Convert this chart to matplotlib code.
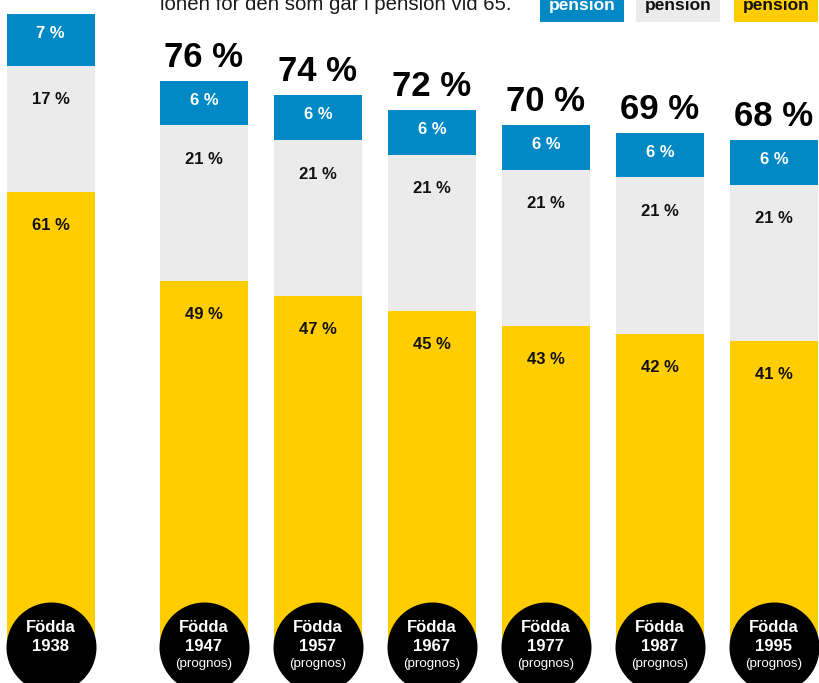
import matplotlib
matplotlib.use("Agg")
import matplotlib.pyplot as plt
from matplotlib.patches import Rectangle
import numpy as np

plt.rcParams['font.family'] = ['Liberation Sans', 'DejaVu Sans']

# ---- data ----
years = ["1938", "1947", "1957", "1967", "1977", "1987", "1995"]
prognos = [False, True, True, True, True, True, True]
yellow_vals = [61, 49, 47, 45, 43, 42, 41]
gray_vals = [17, 21, 21, 21, 21, 21, 21]
blue_vals = [7, 6, 6, 6, 6, 6, 6]
totals = [None, 76, 74, 72, 70, 69, 68]   # 1938 total lies outside the visible area
legend_labels = ["pension", "pension", "pension"]
intro_text = "lönen för den som går i pension vid 65."

BLUE = "#0089C4"
GRAY = "#EBEBEB"
YELLOW = "#FFCD00"
DARK = "#111111"

W, H = 820, 683
fig = plt.figure(figsize=(W / 100, H / 100), dpi=100)
ax = fig.add_axes([0, 0, 1, 1])

px_per_unit_y = 7.44
px_per_unit_x = 114.0
base_px = 646
ax.set_ylim(-(H - base_px) / px_per_unit_y, base_px / px_per_unit_y)
ax.set_xlim(0, W / px_per_unit_x)
ax.axis("off")

n = len(years)
idx = np.arange(n)
x = np.where(idx == 0, 0.443, 0.789 + idx)
bw = 88 / px_per_unit_x

yellow = np.array(yellow_vals, dtype=float)
gray = np.array(gray_vals, dtype=float)
blue = np.array(blue_vals, dtype=float)

ax.bar(x, yellow, width=bw, color=YELLOW, linewidth=0, zorder=1)
ax.bar(x, gray, width=bw, bottom=yellow, color=GRAY, linewidth=0, zorder=1)
ax.bar(x, blue, width=bw, bottom=yellow + gray, color=BLUE, linewidth=0, zorder=1)

def du(px):
    return px / px_per_unit_y

for i in range(n):
    top_y = yellow[i]
    top_g = yellow[i] + gray[i]
    top_b = top_g + blue[i]
    ax.text(x[i], top_y - du(33.5), f"{yellow_vals[i]} %", ha="center", va="center",
            fontsize=12, fontweight="bold", color=DARK, zorder=3)
    ax.text(x[i], top_g - du(34), f"{gray_vals[i]} %", ha="center", va="center",
            fontsize=12, fontweight="bold", color=DARK, zorder=3)
    ax.text(x[i], top_b - du(19.5), f"{blue_vals[i]} %", ha="center", va="center",
            fontsize=12, fontweight="bold", color="white", zorder=3)
    if totals[i] is not None:
        ax.text(x[i], top_b + du(14), f"{totals[i]} %", ha="center", va="baseline",
                fontsize=25, fontweight="bold", color="black", zorder=3)

# circles with labels
ax.scatter(x, np.zeros(n) - du(1), s=(90 * 0.72) ** 2, color="black", linewidths=0, zorder=4)
for i in range(n):
    ax.text(x[i], du(19), "Födda", ha="center", va="center", fontsize=12,
            fontweight="bold", color="white", zorder=5)
    ax.text(x[i], du(-0.5), years[i], ha="center", va="center", fontsize=12,
            fontweight="bold", color="white", zorder=5)
    if prognos[i]:
        ax.text(x[i], du(-18), "(prognos)", ha="center", va="center", fontsize=9.6,
                color="white", zorder=5)

# partially visible intro text
fig.text(160 / W, (H - 10) / H, intro_text, ha="left", va="baseline",
         fontsize=14.7, color="#1a1a1a")

# partially visible legend boxes
boxes = [(540, 84, BLUE, "white"), (636, 84, GRAY, DARK), (734, 84, YELLOW, DARK)]
for (bx, bwid, col, tcol), lab in zip(boxes, legend_labels):
    fig.patches.append(Rectangle((bx / W, (H - 22) / H), bwid / W, 40 / H,
                                 transform=fig.transFigure, color=col, linewidth=0))
    fig.text((bx + bwid / 2) / W, (H - 10) / H, lab, ha="center", va="baseline",
             fontsize=12.5, fontweight="bold", color=tcol)

fig.savefig("out.png", dpi=100, facecolor="white")
